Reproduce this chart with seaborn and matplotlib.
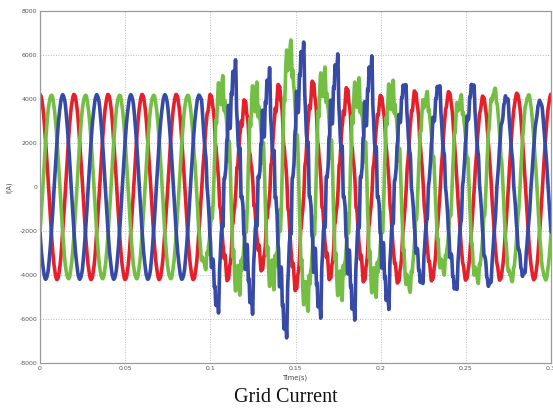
import numpy as np
import pandas as pd
import matplotlib
matplotlib.use("Agg")
import matplotlib.pyplot as plt
import seaborn as sns

# Three-phase grid current during a disturbance (0.1 s - 0.2 s)
FREQ = 50.0          # fundamental, Hz
HALF = 0.01          # half period, s
phase_names = ["Ia", "Ib", "Ic"]
phase_colors = ["#e6202a", "#74be44", "#364aa6"]
# time of the first positive peak of each phase (120 degree shift)
phase_offsets = [0.0, 1 / 150, 2 / 150]

# signed peak value of each half cycle, first one two half cycles before offset
red_peaks = [4200, -4200, 4200, -4200, 4200, -4200, 4200, -4200, 4200, -4200,
             4200, -4200, 4150, -4150, 3850, -3700, 4550, -4600, 4700, -4100,
             4400, -4200, 4100, -4300, 4300, -4200, 4300, -4200, 4100, -4200,
             4250, -4200, 4200, -4200]
green_peaks = [4200, -4200, 4200, -4200, 4200, -4200, 4200, -4200, 4200, -4200,
               4200, -3900, 5400, -5250, 5100, -5000, 7050, -6000, 5800, -5500,
               5300, -5350, 5200, -5000, 4550, -4200, 4400, -4600, 4640, -4450,
               4270, -4300, 4200, -4200]
blue_peaks = [4200, -4200, 4200, -4200, 4200, -4200, 4200, -4200, 4200, -4200,
              4180, -5500, 5400, -5400, 5000, -6600, 6300, -5600, 5700, -5700,
              5600, -5300, 4700, -4400, 4640, -4700, 4730, -4550, 4180, -4100,
              3950, -4200, 4200, -4200]

# harmonic ripple amplitude per half cycle
red_ripple = [50] * 12 + [300] + [560] * 9 + [340] * 4 + [180] * 4 + [80] * 4
green_ripple = [50] * 11 + [500] + [1400] * 11 + [700] * 5 + [380] * 2 + [150] * 4
blue_ripple = [50] * 11 + [1200] + [1500] * 10 + [700] * 5 + [380] * 3 + [150] * 4

harm_freqs = [150.0, 250.0, 450.0, 750.0, 1150.0]
harm_weights = [0.35, 0.3, 0.3, 0.2, 0.12]
harm_phases = [[1.2, 0.3, 1.9, 4.0, 2.6],
               [4.0, 2.1, 0.4, 5.2, 3.7],
               [0.5, 4.4, 3.3, 1.1, 0.8]]

t = np.linspace(0.0, 0.3, 3001)


def phase_current(peaks, ripple, offset, phases):
    peaks = np.asarray(peaks, float)
    ripple = np.asarray(ripple, float)
    tk = offset + (np.arange(len(peaks)) - 2) * HALF
    idx = np.rint((t - tk[0]) / HALF).astype(int)
    mag = np.sign(peaks[idx]) * (np.abs(peaks[idx]) - 0.5 * ripple[idx])
    lobe = mag * np.cos(2 * np.pi * FREQ * (t - tk[idx]))
    env = np.interp(t, tk, ripple)
    harm = sum(w * np.sin(2 * np.pi * f * t + p)
               for f, w, p in zip(harm_freqs, harm_weights, phases))
    return lobe + env * harm


series = [
    phase_current(red_peaks, red_ripple, phase_offsets[0], harm_phases[0]),
    phase_current(green_peaks, green_ripple, phase_offsets[1], harm_phases[1]),
    phase_current(blue_peaks, blue_ripple, phase_offsets[2], harm_phases[2]),
]
df = pd.concat(
    [pd.DataFrame({"Time": t, "I": y, "phase": n}) for n, y in zip(phase_names, series)],
    ignore_index=True,
)

sns.set_theme(style="white")
plt.rcParams["font.family"] = ["DejaVu Sans"]

fig = plt.figure(figsize=(5.53, 4.09), dpi=100)
ax = fig.add_axes([40 / 553, 1 - 363 / 409, 511 / 553, 352 / 409])

sns.lineplot(data=df, x="Time", y="I", hue="phase", hue_order=phase_names,
             palette=phase_colors, estimator=None, sort=False, linewidth=2.6,
             legend=False, ax=ax)

x_ticks = [0, 0.05, 0.1, 0.15, 0.2, 0.25, 0.3]
x_labels = ["0", "0.05", "0.1", "0.15", "0.2", "0.25", "0.3"]
y_ticks = [-8000, -6000, -4000, -2000, 0, 2000, 4000, 6000, 8000]
y_labels = ["-8000", "-6000", "-4000", "-2000", "0", "2000", "4000", "6000", "8000"]

ax.set_xlim(0, 0.3)
ax.set_ylim(-8000, 8000)
ax.set_xticks(x_ticks)
ax.set_xticklabels(x_labels)
ax.set_yticks(y_ticks)
ax.set_yticklabels(y_labels)
ax.tick_params(direction="in", length=3, width=0.6, labelsize=4.5,
               colors="#555555", pad=2)
ax.grid(True, linestyle=":", color="#bdbdbd", linewidth=0.7)
ax.set_axisbelow(True)
for s in ax.spines.values():
    s.set_color("#9a9a9a")
    s.set_linewidth(0.9)

ax.set_xlabel("Time(s)", fontsize=4.8, color="#444444", labelpad=3)
ax.set_ylabel("I(A)", fontsize=4.8, color="#444444", labelpad=5)

fig.text(0.517, 1 - 398 / 409, "Grid Current", ha="center", va="center",
         fontsize=14.5, family="Liberation Serif", color="#111111")

fig.savefig("out.png", dpi=100)
